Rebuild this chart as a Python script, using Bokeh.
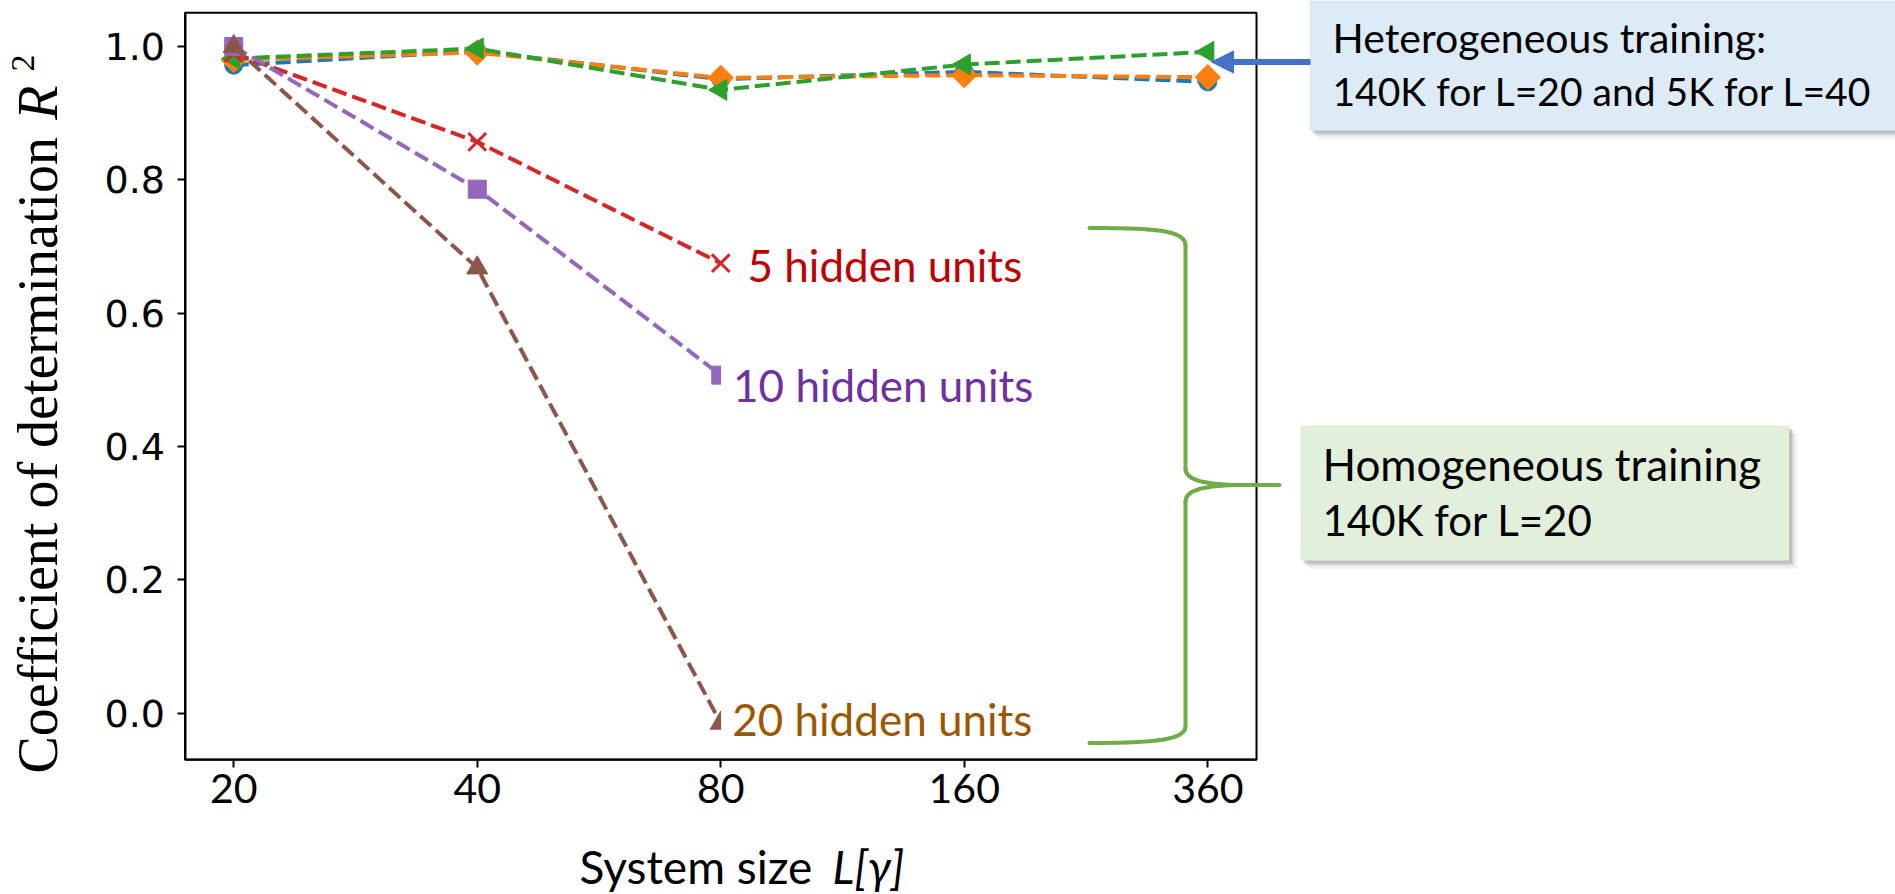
import numpy as np
from bokeh.plotting import figure
from bokeh.models import (Range1d, FixedTicker, NumeralTickFormatter, Label, BoxAnnotation,
                          Arrow, NormalHead, ColumnDataSource)
from bokeh.embed import file_html
from bokeh.resources import INLINE

# ---------------- data ----------------
L_labels = ["20", "40", "80", "160", "360"]
het_blue = [0.972, 0.993, 0.951, 0.962, 0.947]
het_orange = [0.980, 0.991, 0.953, 0.957, 0.954]
het_green = [0.982, 0.997, 0.935, 0.973, 0.992]
hom_5 = [0.990, 0.857, 0.675]
hom_10 = [1.000, 0.786, 0.507]
hom_20 = [1.000, 0.668, -0.015]
y_ticks = [0.0, 0.2, 0.4, 0.6, 0.8, 1.0]

# ---------------- layout ----------------
W, H = 1895, 894
AX_L, AX_R, AX_T, AX_B = 184.5, 1256.0, 12.3, 759.3
X_LO, X_HI = -0.2, 4.2
Y_LO, Y_HI = -0.07, 1.0506

kx = (X_HI - X_LO) / (AX_R - AX_L)
ky = (Y_HI - Y_LO) / (AX_B - AX_T)
X_START, X_END = X_LO - AX_L * kx, X_HI + (W - AX_R) * kx
Y_END, Y_START = Y_HI + AX_T * ky, Y_LO - (H - AX_B) * ky


def fx(px):
    return X_START + px * kx


def fy(py):
    return Y_END - py * ky


p = figure(width=W, height=H, output_backend="svg", toolbar_location=None,
           x_range=Range1d(X_START, X_END), y_range=Range1d(Y_START, Y_END),
           min_border=0)
p.grid.visible = False
p.background_fill_color = "white"
p.border_fill_color = "white"
p.outline_line_color = None

x_all = list(range(len(L_labels)))
x_hom = x_all[:len(hom_5)]

xa, ya = p.xaxis[0], p.yaxis[0]
xa.fixed_location = Y_LO
xa.bounds = (X_LO, X_HI)
ya.fixed_location = X_LO
ya.bounds = (Y_LO, Y_HI)
xa.ticker = FixedTicker(ticks=x_all)
xa.major_label_overrides = {i: s for i, s in enumerate(L_labels)}
ya.ticker = FixedTicker(ticks=y_ticks)
ya.formatter = NumeralTickFormatter(format="0.0")
for ax in (xa, ya):
    ax.axis_line_width = 2
    ax.axis_line_color = "black"
    ax.major_tick_line_width = 2
    ax.major_tick_line_color = "black"
    ax.major_tick_out = 8
    ax.major_tick_in = 0
    ax.minor_tick_out = 0
    ax.minor_tick_in = 0
    ax.major_label_text_color = "black"
ya.major_label_text_font = "DejaVu Sans"
ya.major_label_text_font_size = "38px"
ya.major_label_standoff = 12
xa.major_label_text_font = "Lato"
xa.major_label_text_font_size = "41px"
xa.major_label_standoff = 6

# top / right spines of the axes box
p.add_layout(BoxAnnotation(left=X_LO, right=X_HI, bottom=Y_LO, top=Y_HI,
                           fill_alpha=0, line_color="black", line_alpha=1.0, line_width=2))

DASH = "15 6"
LW = 4


def series(x, y, color, marker, size, angle=0.0, filled=True, mlw=1.0):
    p.line(x, y, line_color=color, line_width=LW, line_dash=DASH)
    p.scatter(x, y, marker=marker, size=size, angle=angle,
              fill_color=color if filled else None, line_color=color, line_width=mlw)


series(x_all, het_blue, "#1f77b4", "circle", 18)
series(x_all, het_orange, "#ff7f0e", "square", 18, angle=np.pi / 4)
series(x_all, het_green, "#2ca02c", "triangle", 21, angle=np.pi / 2)
series(x_hom, hom_5, "#d62728", "x", 25, filled=False, mlw=3)
series(x_hom, hom_10, "#9467bd", "square", 18)
series(x_hom, hom_20, "#8c564b", "triangle", 21)

BASE_FIX = {"Lato": 0.385, "DejaVu Serif": 0.23, "Liberation Serif": 0.22}


def text(txt, xf, yf, size, color="black", font="Lato", style="normal", align="left", angle=0.0):
    d = BASE_FIX.get(font, 0.3) * size
    if angle == 0.0:
        yf = yf - d
    else:
        xf = xf - d
    p.add_layout(Label(x=fx(xf), y=fy(yf), text=txt, text_font=font, text_font_size=f"{size}px",
                       text_color=color, text_font_style=style, text_align=align,
                       text_baseline="alphabetic", angle=angle))


def box(l, r, t, b, color, alpha=1.0):
    p.add_layout(BoxAnnotation(left=fx(l), right=fx(r), top=fy(t), bottom=fy(b),
                               fill_color=color, fill_alpha=alpha, line_alpha=0))


box(720.6, 1035, 362, 412, "white")
box(720.6, 1035, 706, 748, "white")

text("5 hidden units", 747, 281.7, 44, color="#C00000")
text("10 hidden units", 732.6, 401.7, 44, color="#7030A0")
text("20 hidden units", 731.7, 735, 44, color="#9C5800")

for d, a in ((8, 0.10), (5, 0.18), (3, 0.25)):
    box(1309 + d, 1900, 0 + d, 130 + d, "#6f6f6f", a)
box(1309, 1900, -10, 130, "#DDEBF7")
text("Heterogeneous training:", 1332, 53, 41)
text("140K for L=20 and 5K for L=40", 1332, 106, 39)

for d, a in ((8, 0.10), (5, 0.18), (3, 0.25)):
    box(1300 + d, 1788.5 + d, 425 + d, 560 + d, "#6f6f6f", a)
box(1300, 1788.5, 425, 560, "#E2EFDA")
text("Homogeneous training", 1322, 480, 44)
text("140K for L=20", 1322, 535.7, 42)

BLUE = "#4472C4"
p.add_layout(Arrow(end=NormalHead(size=22, fill_color=BLUE, line_color=BLUE),
                   x_start=fx(1310), y_start=fy(61.5), x_end=fx(1211), y_end=fy(61.5),
                   line_color=BLUE, line_width=6))


def cubic(a, b, c, d, n=14):
    t = np.linspace(0, 1, n)[:, None]
    a, b, c, d = map(np.array, (a, b, c, d))
    return ((1 - t) ** 3) * a + 3 * ((1 - t) ** 2) * t * b + 3 * (1 - t) * t ** 2 * c + t ** 3 * d


segs = [
    cubic((1089, 227.5), (1150, 227.5), (1185, 229), (1185, 245)),
    np.array([[1185, 245], [1185, 468]]),
    cubic((1185, 468), (1185, 480), (1205, 484.5), (1245, 484.5)),
    np.array([[1245, 484.5], [1279, 484.5]]),
    cubic((1245, 484.5), (1205, 484.5), (1185, 489), (1185, 501)),
    np.array([[1185, 501], [1185, 726]]),
    cubic((1185, 726), (1185, 740), (1150, 742.5), (1089, 742.5)),
]
x0s, y0s, x1s, y1s = [], [], [], []
for s in segs:
    for i in range(len(s) - 1):
        x0s.append(fx(s[i][0])); y0s.append(fy(s[i][1]))
        x1s.append(fx(s[i + 1][0])); y1s.append(fy(s[i + 1][1]))
brace_src = ColumnDataSource(dict(x0=x0s, y0=y0s, x1=x1s, y1=y1s))
p.add_layout(Arrow(end=None, source=brace_src, x_start="x0", y_start="y0", x_end="x1", y_end="y1",
                   line_color="#70AD47", line_width=4, line_cap="round", line_join="round"))

# axis labels
text("Coefficient of determination", 50, 773, 56, font="Liberation Serif", angle=np.pi / 2)
text("R", 50, 85, 56, font="Liberation Serif", style="italic", align="right", angle=np.pi / 2)
text("2", 30, 54, 34, font="Liberation Serif", align="right", angle=np.pi / 2)
text("System size", 579, 884, 46)
text("L[γ]", 832, 884, 46, style="italic", align="left")

open("out.html", "w").write(file_html(p, INLINE))
